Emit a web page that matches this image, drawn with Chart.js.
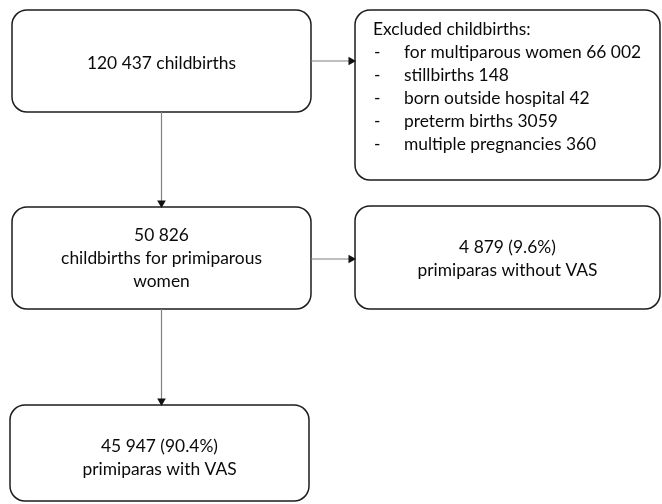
<!DOCTYPE html>
<html>
<head>
<meta charset="utf-8">
<script src="https://cdn.jsdelivr.net/npm/chart.js@4.4.0/dist/chart.umd.min.js"></script>
<style>
  html, body { margin: 0; padding: 0; background: #fff; }
  #wrap { width: 662px; height: 504px; }
</style>
</head>
<body>
<div id="wrap"><canvas id="flowChart" width="662" height="504"></canvas></div>
<script>
// flowchart content
const boxIds = ['total', 'excluded', 'primi', 'noVas', 'withVas'];
const boxLines = [
	['120 437 childbirths'],
	['Excluded childbirths:'],
	['50 826', 'childbirths for primiparous', 'women'],
	['4 879 (9.6%)', 'primiparas without VAS'],
	['45 947 (90.4%)', 'primiparas with VAS']
];
const excludedItems = [
	'for multiparous women 66 002',
	'stillbirths 148',
	'born outside hospital 42',
	'preterm births 3059',
	'multiple pregnancies 360'
];
const links = [['total', 'excluded'], ['total', 'primi'], ['primi', 'noVas'], ['primi', 'withVas']];

// layout (in scale units, 0..662 x 0..504)
const boxLeft = [12, 355, 12, 355, 10];
const boxRight = [311, 660, 311, 660, 309];
const boxTop = [10, 10, 207, 206, 405];
const boxBottom = [112, 180, 309, 309, 501];
const textShift = [2, 0, 0, 1, 5];
const lineGap = 23;
const font = '17.4px Lato, "Open Sans", sans-serif';

function idx(id) { return boxIds.indexOf(id); }

// connector lines + arrow heads as datasets
const arrowSize = 4;
const linkSets = [];
const heads = [];
links.forEach(function (l) {
	const a = idx(l[0]), b = idx(l[1]);
	let p1, p2, rot;
	if (boxLeft[b] > boxRight[a]) {
		const y = (boxTop[a] + boxBottom[a]) / 2 + (a === 0 ? 0 : 1);
		p1 = {x: boxRight[a], y: y};
		p2 = {x: boxLeft[b], y: y};
		rot = 90;
		heads.push({x: boxLeft[b] - arrowSize, y: y, r: rot});
	} else {
		const x = (boxLeft[a] + boxRight[a]) / 2;
		p1 = {x: x, y: boxBottom[a]};
		p2 = {x: x, y: boxTop[b]};
		rot = 180;
		heads.push({x: x, y: boxTop[b] - arrowSize, r: rot});
	}
	linkSets.push({
		type: 'scatter',
		data: [p1, p2],
		showLine: true,
		borderColor: '#808080',
		borderWidth: 1.2,
		pointRadius: 0,
		order: 2
	});
});
linkSets.push({
	type: 'scatter',
	data: heads.map(function (h) { return {x: h.x, y: h.y}; }),
	pointStyle: 'triangle',
	pointRadius: arrowSize + 1,
	rotation: heads.map(function (h) { return h.r; }),
	backgroundColor: '#111',
	borderColor: '#111',
	borderWidth: 0,
	order: 1
});

const boxPlugin = {
	id: 'boxes',
	beforeDatasetsDraw: function (chart) {
		const ctx = chart.ctx;
		const xs = chart.scales.x, ys = chart.scales.y;
		ctx.save();
		for (let i = 0; i < boxIds.length; i++) {
			const x0 = xs.getPixelForValue(boxLeft[i]);
			const x1 = xs.getPixelForValue(boxRight[i]);
			const y0 = ys.getPixelForValue(boxTop[i]);
			const y1 = ys.getPixelForValue(boxBottom[i]);
			ctx.beginPath();
			ctx.roundRect(x0, y0, x1 - x0, y1 - y0, 15);
			ctx.fillStyle = '#fff';
			ctx.fill();
			ctx.lineWidth = 1.5;
			ctx.strokeStyle = '#1c1c1c';
			ctx.stroke();
		}
		ctx.restore();
	},
	afterDatasetsDraw: function (chart) {
		const ctx = chart.ctx;
		const xs = chart.scales.x, ys = chart.scales.y;
		ctx.save();
		ctx.font = font;
		ctx.fillStyle = '#0a0a0a';
		ctx.textBaseline = 'middle';
		for (let i = 0; i < boxIds.length; i++) {
			const lines = boxLines[i];
			if (boxIds[i] === 'excluded') {
				ctx.textAlign = 'left';
				let y = 29;
				ctx.fillText(lines[0], xs.getPixelForValue(373), ys.getPixelForValue(y));
				excludedItems.forEach(function (t) {
					y += lineGap;
					ctx.fillText('-', xs.getPixelForValue(374), ys.getPixelForValue(y));
					ctx.fillText(t, xs.getPixelForValue(404), ys.getPixelForValue(y));
				});
				continue;
			}
			ctx.textAlign = 'center';
			const cx = (boxLeft[i] + boxRight[i]) / 2;
			const cy = (boxTop[i] + boxBottom[i]) / 2 + textShift[i];
			const start = cy - (lines.length - 1) * lineGap / 2;
			lines.forEach(function (t, k) {
				ctx.fillText(t, xs.getPixelForValue(cx), ys.getPixelForValue(start + k * lineGap));
			});
		}
		ctx.restore();
	}
};

new Chart(document.getElementById('flowChart').getContext('2d'), {
	type: 'scatter',
	data: { datasets: linkSets },
	plugins: [boxPlugin],
	options: {
		responsive: false,
		animation: false,
		devicePixelRatio: 1,
		layout: { padding: 0, autoPadding: false },
		plugins: { legend: { display: false }, tooltip: { enabled: false } },
		scales: {
			x: { type: 'linear', min: 0, max: 662, display: false },
			y: { type: 'linear', min: 0, max: 504, reverse: true, display: false }
		}
	}
});
</script>
</body>
</html>
